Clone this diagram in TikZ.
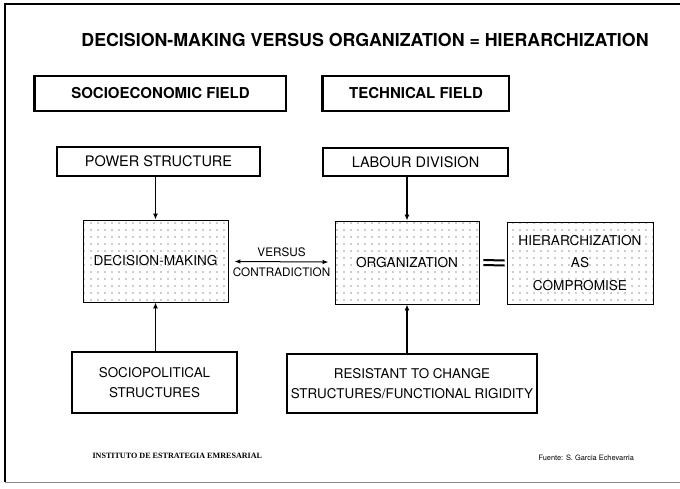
\documentclass[tikz,border=0pt]{standalone}
\usepackage{fontspec}
\setmainfont{TeX Gyre Heros}
\newfontfamily\footserif{Liberation Serif}
\usetikzlibrary{arrows.meta,patterns.meta}
\newcommand{\feed}[2]{\draw[feedarrow] (#1 -| #2) -- (#2);}

\begin{document}
\begin{tikzpicture}[x=1pt,y=-1pt,
    feedarrow/.style={line width=1.1pt,-{Latex[length=6pt,width=5pt]}},
    fieldbox/.style={draw,line width=1.1pt,inner sep=0pt,font=\fontsize{15}{18}\selectfont\bfseries},
    plainbox/.style={draw,line width=1.1pt,inner sep=0pt,align=center,font=\fontsize{13.4}{20}\selectfont},
    dotbox/.style={draw,line width=0.9pt,inner sep=0pt,align=center,
        pattern={Dots[distance=6.5pt,radius=0.7pt]},pattern color=black!85,
        font=\fontsize{13.6}{22.5}\selectfont}]
	\useasboundingbox (0,0) rectangle (680,488);
	% frame of the slide
	\draw[line width=1.2pt] (680,4) -- (5,4) -- (5,482);
	\draw[line width=1pt,black!45] (5,482) -- (680,482);

	\node(title) at (365,40) {\fontsize{17.8}{21}\selectfont\bfseries DECISION-MAKING VERSUS ORGANIZATION = HIERARCHIZATION};

	\node[fieldbox,minimum width=251pt,minimum height=35pt](socio) at (160.5,93.5) {SOCIOECONOMIC FIELD};
	\node[fieldbox,minimum width=186pt,minimum height=35pt](tech) at (416,93.5) {TECHNICAL FIELD};
	\draw[line width=2.5pt] (socio.north west) -- (socio.south west);
	\draw[line width=2.5pt] (tech.north west) -- (tech.south west);

	\node[plainbox,minimum width=203pt,minimum height=29pt,font=\fontsize{14.5}{17}\selectfont](power) at (158.5,161.5) {POWER STRUCTURE};
	\node[plainbox,minimum width=185pt,minimum height=28pt,font=\fontsize{14.5}{17}\selectfont](labour) at (415.5,162) {LABOUR DIVISION};

	\node[dotbox,minimum width=145pt,minimum height=82pt](decision) at (155.5,261) {DECISION-MAKING};
	\node[dotbox,minimum width=144pt,minimum height=83pt](organization) at (407,262.5) {ORGANIZATION};
	\node[dotbox,minimum width=146pt,minimum height=82pt](hier) at (580,263) {HIERARCHIZATION\\AS\\COMPROMISE};

	\node[plainbox,minimum width=165pt,minimum height=61pt](sociopol) at (154.5,382.5) {SOCIOPOLITICAL\\STRUCTURES};
	\node[plainbox,minimum width=250pt,minimum height=59pt](resist) at (412,383.5) {RESISTANT TO CHANGE\\STRUCTURES/FUNCTIONAL RIGIDITY};

	\feed{power.south}{decision}
	\feed{labour.south}{organization}
	\feed{sociopol.north}{decision}
	\feed{resist.north}{organization}

	\draw[line width=1pt,{Latex[length=6pt,width=4.5pt]}-{Latex[length=6pt,width=4.5pt]},shorten <=6pt,shorten >=6pt]
		(decision) -- node[above=1pt,font=\fontsize{11.7}{13}\selectfont]{VERSUS}
		node[below=2pt,font=\fontsize{11.7}{13}\selectfont]{CONTRADICTION} (organization);
	\draw[line width=2pt] ([xshift=4pt,yshift=2.5pt]organization.east) -- ([xshift=-2pt,yshift=2.5pt]hier.west);
	\draw[line width=2pt] ([xshift=4pt,yshift=-2.5pt]organization.east) -- ([xshift=-2pt,yshift=-2.5pt]hier.west);

	\node[anchor=west](inst) at (89,456) {\footserif\fontsize{8.1}{9}\selectfont\bfseries INSTITUTO DE ESTRATEGIA EMRESARIAL};
	\node[anchor=west](source) at (535,458) {\fontsize{7.4}{8}\selectfont Fuente: S. Garcia Echevarria};
\end{tikzpicture}
\end{document}
